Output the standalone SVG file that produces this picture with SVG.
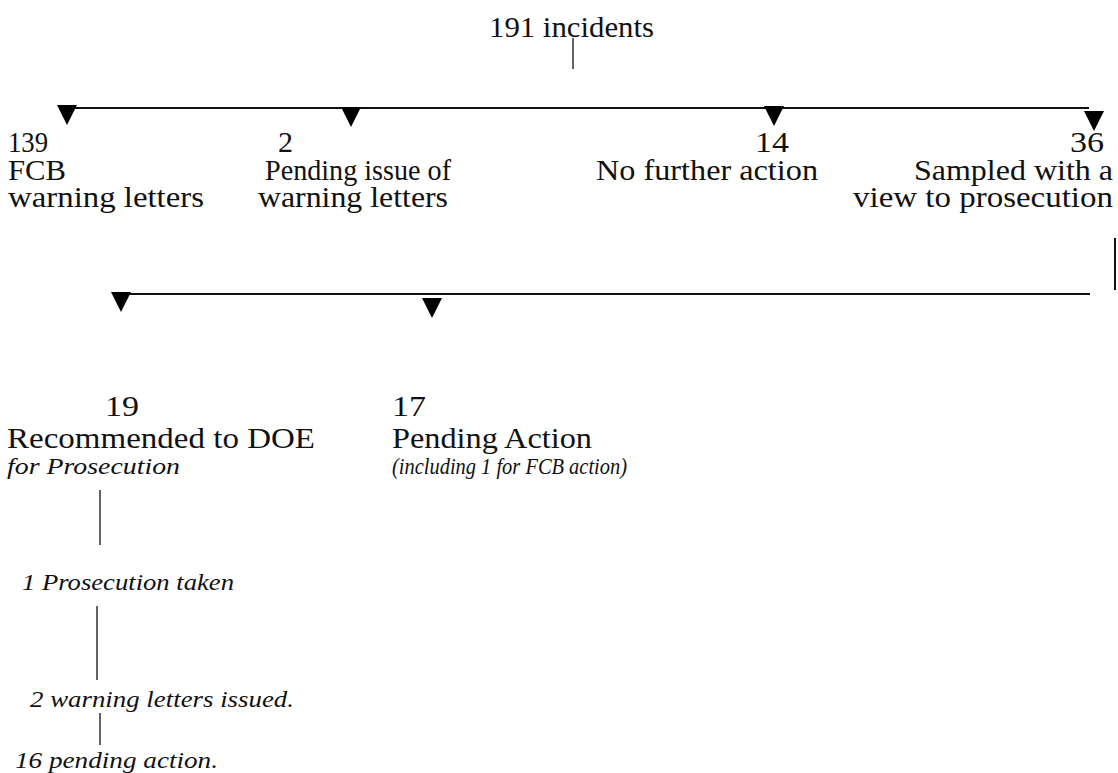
<svg xmlns="http://www.w3.org/2000/svg" xmlns:xlink="http://www.w3.org/1999/xlink" width="1118" height="773" viewBox="0 0 1118 773">
<style>
.t{font-family:"Liberation Serif","Times New Roman",serif;font-size:29px;fill:#111}
.i{font-family:"Liberation Serif","Times New Roman",serif;font-size:24px;font-style:italic;fill:#111}
.ln{stroke:#111;stroke-width:2;fill:none}
.thin{stroke:#111;stroke-width:1.3;fill:none}
</style>
<defs>
<path id="tri" d="M-10,0 L10,0 L0,20 Z" fill="#000"/>
</defs>
<rect width="1118" height="773" fill="#fff"/>
<g id="connectors">
<line class="thin" x1="573" y1="38" x2="573" y2="69"/>
<line class="ln" x1="67" y1="108" x2="1089" y2="108"/>
<use xlink:href="#tri" x="67" y="105"/>
<use xlink:href="#tri" x="351" y="107"/>
<use xlink:href="#tri" x="774" y="106"/>
<use xlink:href="#tri" x="1094" y="111"/>
<line class="ln" x1="1115" y1="238" x2="1115" y2="290"/>
<line class="ln" x1="121" y1="294" x2="1090" y2="294"/>
<use xlink:href="#tri" x="121" y="292"/>
<use xlink:href="#tri" x="432" y="298"/>
<line class="thin" x1="100" y1="490" x2="100" y2="545"/>
<line class="thin" x1="97" y1="606" x2="97" y2="680"/>
<line class="thin" x1="100" y1="713" x2="100" y2="745"/>
</g>
<g id="root"><text class="t" x="489" y="37" textLength="165" lengthAdjust="spacingAndGlyphs">191 incidents</text></g>
<g id="n139">
<text class="t" x="8" y="152" textLength="40" lengthAdjust="spacingAndGlyphs">139</text>
<text class="t" x="8" y="180" textLength="58" lengthAdjust="spacingAndGlyphs">FCB</text>
<text class="t" x="8" y="207" textLength="196" lengthAdjust="spacingAndGlyphs">warning letters</text>
</g>
<g id="n2">
<text class="t" x="278" y="152" textLength="15" lengthAdjust="spacingAndGlyphs">2</text>
<text class="t" x="265" y="180" textLength="186" lengthAdjust="spacingAndGlyphs">Pending issue of</text>
<text class="t" x="258" y="207" textLength="190" lengthAdjust="spacingAndGlyphs">warning letters</text>
</g>
<g id="n14">
<text class="t" x="755" y="152" textLength="34" lengthAdjust="spacingAndGlyphs">14</text>
<text class="t" x="596" y="180" textLength="222" lengthAdjust="spacingAndGlyphs">No further action</text>
</g>
<g id="n36">
<text class="t" x="1070" y="152" textLength="34" lengthAdjust="spacingAndGlyphs">36</text>
<text class="t" x="914" y="180" textLength="199" lengthAdjust="spacingAndGlyphs">Sampled with a</text>
<text class="t" x="853" y="207" textLength="260" lengthAdjust="spacingAndGlyphs">view to  prosecution</text>
</g>
<g id="n19">
<text class="t" x="105" y="416" textLength="34" lengthAdjust="spacingAndGlyphs">19</text>
<text class="t" x="7" y="448" textLength="308" lengthAdjust="spacingAndGlyphs">Recommended to DOE</text>
<text class="i" x="7" y="474" textLength="173" lengthAdjust="spacingAndGlyphs">for Prosecution</text>
</g>
<g id="n17">
<text class="t" x="392" y="416" textLength="34" lengthAdjust="spacingAndGlyphs">17</text>
<text class="t" x="392" y="448" textLength="200" lengthAdjust="spacingAndGlyphs">Pending Action</text>
<text class="i" x="392" y="474" textLength="235" lengthAdjust="spacingAndGlyphs">(including 1 for FCB action)</text>
</g>
<g id="n_pros"><text class="i" x="22" y="590" textLength="212" lengthAdjust="spacingAndGlyphs">1 Prosecution taken</text></g>
<g id="n_warn"><text class="i" x="30" y="707" textLength="264" lengthAdjust="spacingAndGlyphs">2 warning letters issued.</text></g>
<g id="n_pend"><text class="i" x="15" y="768" textLength="203" lengthAdjust="spacingAndGlyphs">16 pending action.</text></g>
</svg>
